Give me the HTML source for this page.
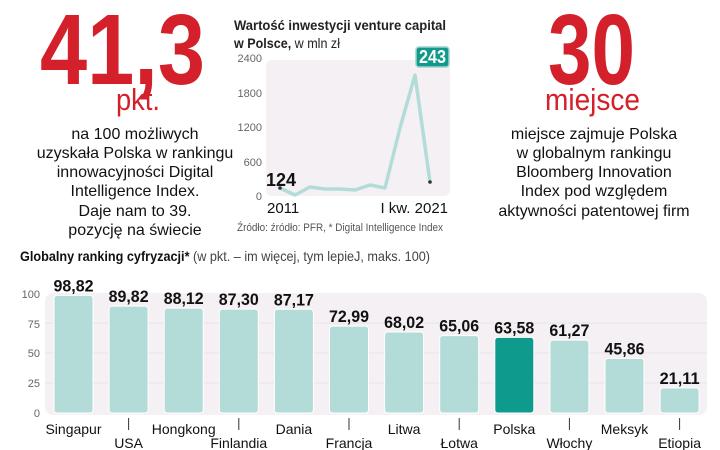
<!DOCTYPE html>
<html><head><meta charset="utf-8"><style>
body{margin:0;width:720px;height:450px;background:#fff;overflow:hidden;font-family:"Liberation Sans",sans-serif}
</style></head><body>
<svg width="720" height="450" xmlns="http://www.w3.org/2000/svg" style="position:absolute;left:0;top:0">
<g font-family="Liberation Sans, sans-serif">
<text x="40" y="84" font-size="100" font-weight="bold" fill="#d3202a" textLength="165" lengthAdjust="spacingAndGlyphs">41,3</text>
<text x="116" y="110" font-size="31" fill="#d3202a" textLength="44" lengthAdjust="spacingAndGlyphs">pkt.</text>
<g font-size="16" fill="#111" text-anchor="middle">
<text x="135" y="139">na 100 możliwych</text>
<text x="135" y="158">uzyskała Polska w rankingu</text>
<text x="135" y="177">innowacyjności Digital</text>
<text x="135" y="196">Intelligence Index.</text>
<text x="135" y="216">Daje nam to 39.</text>
<text x="135" y="235">pozycję na świecie</text>
</g>
<text x="548" y="84" font-size="100" font-weight="bold" fill="#d3202a" textLength="87" lengthAdjust="spacingAndGlyphs">30</text>
<text x="545" y="110" font-size="31" fill="#d3202a" textLength="95" lengthAdjust="spacingAndGlyphs">miejsce</text>
<g font-size="16" fill="#111" text-anchor="middle">
<text x="594" y="139">miejsce zajmuje Polska</text>
<text x="594" y="158">w globalnym rankingu</text>
<text x="594" y="177">Bloomberg Innovation</text>
<text x="594" y="196">Index pod względem</text>
<text x="594" y="216">aktywności patentowej firm</text>
</g>
<text x="234" y="30" font-size="14" font-weight="bold" fill="#222" textLength="212" lengthAdjust="spacingAndGlyphs">Wartość inwestycji venture capital</text>
<text x="234" y="48" font-size="14" fill="#222" textLength="106" lengthAdjust="spacingAndGlyphs"><tspan font-weight="bold">w Polsce,</tspan> w mln zł</text>
<rect x="266" y="60" width="184" height="136" rx="6" fill="#f4f0f3"/>
<g font-size="11" fill="#666" text-anchor="end">
<text x="262" y="62">2400</text><text x="262" y="97">1800</text><text x="262" y="131">1200</text><text x="262" y="166">600</text><text x="262" y="200">0</text>
</g>
<polyline points="280,188 295,195 310,187 325,189 340,189 355,190 370,185 385,188 400,128 415,75 430,182" fill="none" stroke="#b3dcd8" stroke-width="3.5" stroke-linejoin="round"/>
<circle cx="280" cy="188" r="1.8" fill="#333"/><circle cx="430" cy="182" r="1.8" fill="#333"/>
<text x="266" y="186" font-size="18" font-weight="bold" fill="#111" textLength="30" lengthAdjust="spacingAndGlyphs">124</text>
<rect x="416" y="47" width="33" height="20" rx="3" fill="#12998a" stroke="#9ad6cf" stroke-width="1.5"/>
<text x="432.5" y="63" text-anchor="middle" font-size="18" font-weight="bold" fill="#fff" textLength="27" lengthAdjust="spacingAndGlyphs">243</text>
<text x="267" y="213" font-size="15" fill="#111">2011</text>
<text x="448" y="213" text-anchor="end" font-size="15" fill="#111">I kw. 2021</text>
<text x="237" y="231" font-size="11" fill="#555" textLength="206" lengthAdjust="spacingAndGlyphs">Źródło: źródło: PFR, * Digital Intelligence Index</text>
<text x="20" y="261" font-size="14" fill="#444" textLength="410" lengthAdjust="spacingAndGlyphs"><tspan font-weight="bold" fill="#111">Globalny ranking cyfryzacji*</tspan> (w pkt. – im więcej, tym lepieJ, maks. 100)</text>
<rect x="45" y="293" width="662" height="122" rx="8" fill="#f4f0f3"/>
<g stroke="#ebe4e8" stroke-width="1"><line x1="45" y1="323" x2="707" y2="323"/><line x1="45" y1="353" x2="707" y2="353"/><line x1="45" y1="383" x2="707" y2="383"/></g>
<g font-size="11" fill="#666" text-anchor="end">
<text x="40" y="298">100</text><text x="40" y="328">75</text><text x="40" y="357">50</text><text x="40" y="387">25</text><text x="40" y="417">0</text>
</g>
<g id="bars"></g>
</g>
</svg>
<script>
var d=[["Singapur",98.82],["USA",89.82],["Hongkong",88.12],["Finlandia",87.30],["Dania",87.17],["Francja",72.99],["Litwa",68.02],["Łotwa",65.06],["Polska",63.58],["Włochy",61.27],["Meksyk",45.86],["Etiopia",21.11]];
var g=document.getElementById("bars"),s="";
d.forEach(function(e,i){var x=54+i*55.1,h=e[1]*1.19,y=413-h,c=x+19.5;
s+='<rect x="'+x+'" y="'+y+'" width="39" height="'+h+'" rx="3" fill="'+(e[0]=="Polska"?"#0e9a8c":"#b3dcd8")+'" stroke="#fff" stroke-width="1"/>';
s+='<text x="'+(c-20)+'" y="'+(y-4)+'" font-size="17" font-weight="bold" fill="#111" textLength="40" lengthAdjust="spacingAndGlyphs">'+e[1].toFixed(2).replace(".",",")+'</text>';
if(i%2==0)s+='<text x="'+c+'" y="434" text-anchor="middle" font-size="14" fill="#111">'+e[0]+'</text>';
else s+='<line x1="'+c+'" y1="418" x2="'+c+'" y2="430" stroke="#333" stroke-width="1"/><text x="'+c+'" y="448" text-anchor="middle" font-size="14" fill="#111">'+e[0]+'</text>';});
g.innerHTML=s;
</script>
</body></html>
